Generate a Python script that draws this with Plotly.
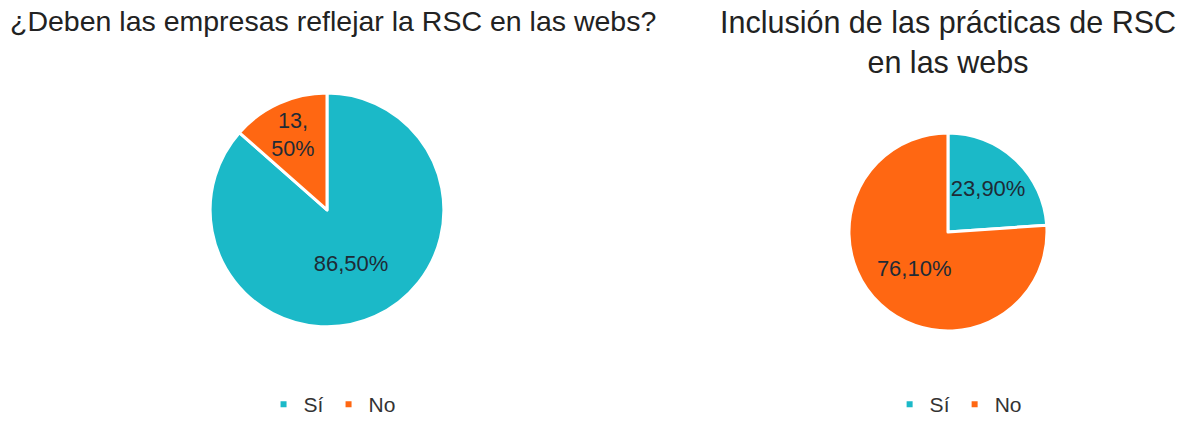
import plotly.graph_objects as go

# Survey results on CSR (RSC) presence in company websites
labels = ["Sí", "No"]
deben_reflejar = [86.5, 13.5]
inclusion_practicas = [23.9, 76.1]

titles = [
    "¿Deben las empresas reflejar la RSC en las webs?",
    "Inclusión de las prácticas de RSC<br>en las webs",
]

TEAL = "#1BB9C8"
ORANGE = "#FF6712"
COLORS = [TEAL, ORANGE]
TEXT_DARK = "#1E2B36"
FONT = "Liberation Sans, Arial, sans-serif"


def pct(v, wrap=False):
    s = f"{v:.2f}".replace(".", ",") + "%"
    if wrap:
        whole, frac = s.split(",")
        return f"{whole},<br>{frac}"
    return s


def pie(values, text, domain):
    return go.Pie(
        labels=labels,
        values=values,
        text=text,
        textinfo="text",
        textposition="inside",
        insidetextorientation="horizontal",
        sort=False,
        direction="clockwise",
        rotation=0,
        marker=dict(colors=COLORS, line=dict(color="white", width=3)),
        textfont=dict(family=FONT, size=22, color=TEXT_DARK),
        domain=domain,
        showlegend=False,
        hoverinfo="label+percent",
    )


fig = go.Figure()

fig.add_trace(pie(
    deben_reflejar,
    [pct(deben_reflejar[0]), pct(deben_reflejar[1], wrap=True)],
    dict(x=[0.1768, 0.3737], y=[0.231, 0.781]),
))
fig.add_trace(pie(
    inclusion_practicas,
    [pct(v) for v in inclusion_practicas],
    dict(x=[0.7146, 0.8813], y=[0.2212, 0.6871]),
))

# Small square legend keys, one legend under each pie
for legend_id in ("legend", "legend2"):
    for name, color in zip(labels, COLORS):
        fig.add_trace(go.Scatter(
            x=[None], y=[None], mode="markers", name=name,
            marker=dict(symbol="square", size=6, color=color),
            legend=legend_id, showlegend=True, hoverinfo="skip",
        ))

legend_style = dict(
    orientation="h",
    xanchor="center",
    yanchor="bottom",
    y=0.0,
    itemwidth=30,
    font=dict(family=FONT, size=21, color="#333333"),
    bgcolor="rgba(0,0,0,0)",
    itemclick=False,
    itemdoubleclick=False,
)

fig.update_layout(
    width=1188,
    height=425,
    margin=dict(l=0, r=0, t=0, b=0),
    paper_bgcolor="white",
    plot_bgcolor="white",
    xaxis=dict(visible=False),
    yaxis=dict(visible=False),
    legend=dict(x=0.2795, **legend_style),
    legend2=dict(x=0.8065, **legend_style),
    annotations=[
        dict(text=titles[0], x=332.5 / 1188, y=1.0, xref="paper", yref="paper",
             xanchor="center", yanchor="top", yshift=-3, showarrow=False,
             font=dict(family=FONT, size=28.5, color="#222222")),
        dict(text=titles[1], x=947.5 / 1188, y=1.0, xref="paper", yref="paper",
             xanchor="center", yanchor="top", yshift=-3, showarrow=False,
             font=dict(family=FONT, size=30.5, color="#222222")),
    ],
)

fig.write_html("out.html")
